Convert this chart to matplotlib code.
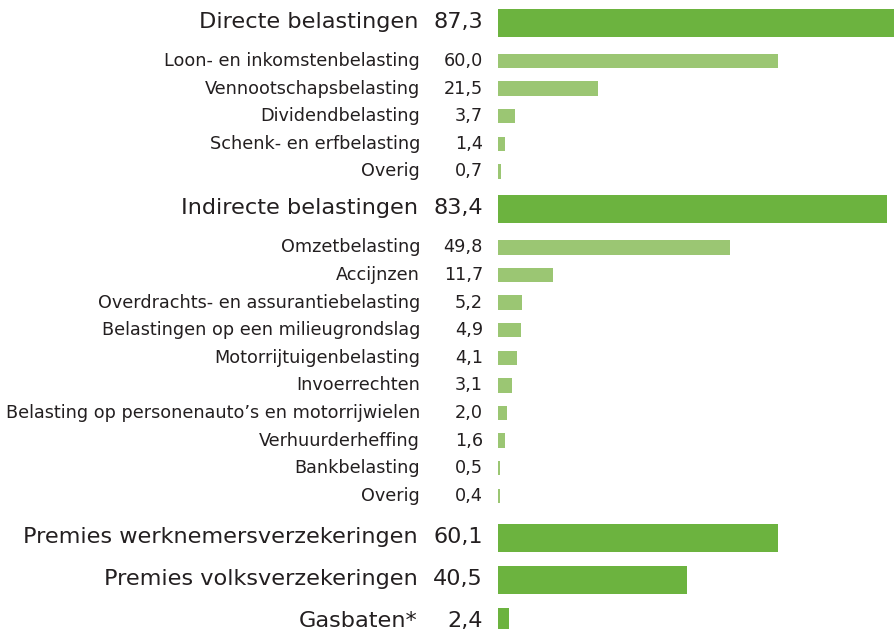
import matplotlib
matplotlib.use("Agg")
import matplotlib.pyplot as plt

labels = [
    "Directe belastingen", "Loon- en inkomstenbelasting", "Vennootschapsbelasting",
    "Dividendbelasting", "Schenk- en erfbelasting", "Overig",
    "Indirecte belastingen", "Omzetbelasting", "Accijnzen",
    "Overdrachts- en assurantiebelasting", "Belastingen op een milieugrondslag",
    "Motorrijtuigenbelasting", "Invoerrechten",
    "Belasting op personenauto\u2019s en motorrijwielen", "Verhuurderheffing",
    "Bankbelasting", "Overig",
    "Premies werknemersverzekeringen", "Premies volksverzekeringen", "Gasbaten*",
]
values = [87.3, 60.0, 21.5, 3.7, 1.4, 0.7,
          83.4, 49.8, 11.7, 5.2, 4.9, 4.1, 3.1, 2.0, 1.6, 0.5, 0.4,
          60.1, 40.5, 2.4]
is_main = [True, False, False, False, False, False,
           True, False, False, False, False, False, False, False, False, False, False,
           True, True, True]

DARK = "#6cb33f"
LIGHT = "#9bc673"
TEXT = "#231f20"
FONT = "DejaVu Sans"

W, H = 894, 629
fig = plt.figure(figsize=(W / 100, H / 100), dpi=100)
x0 = 498
ax = fig.add_axes([x0 / W, 0, 1 - x0 / W, 1])
px_per_unit = 4.66
ax.set_xlim(0, (W - x0) / px_per_unit)
ax.set_ylim(H, 0)
ax.axis("off")

ys = []
y = 23.0
n = len(labels)
for i in range(n):
    if i > 0:
        nxt_main_alone = is_main[i] and (i == n - 1 or is_main[i + 1])
        if nxt_main_alone:
            y += 42.0
        elif is_main[i] or is_main[i - 1]:
            y += 38.0
        else:
            y += 27.6
    ys.append(y)

for lab, v, m, yy in zip(labels, values, is_main, ys):
    h = 28 if m else 14.5
    ax.barh(yy, v, height=h, left=0, color=DARK if m else LIGHT)
    fs = 16.1 if m else 12.7
    val = f"{v:.1f}".replace(".", ",")
    dy = 1 if m else 0
    ax.annotate(lab, xy=(0, yy), xycoords=("axes fraction", "data"),
                xytext=(-78 if not m else -80, dy), textcoords="offset pixels",
                ha="right", va="center", fontsize=fs, color=TEXT,
                family=FONT, annotation_clip=False)
    ax.annotate(val, xy=(0, yy), xycoords=("axes fraction", "data"),
                xytext=(-15, dy), textcoords="offset pixels",
                ha="right", va="center", fontsize=fs, color=TEXT,
                family=FONT, annotation_clip=False)

fig.savefig("out.png", dpi=100)
